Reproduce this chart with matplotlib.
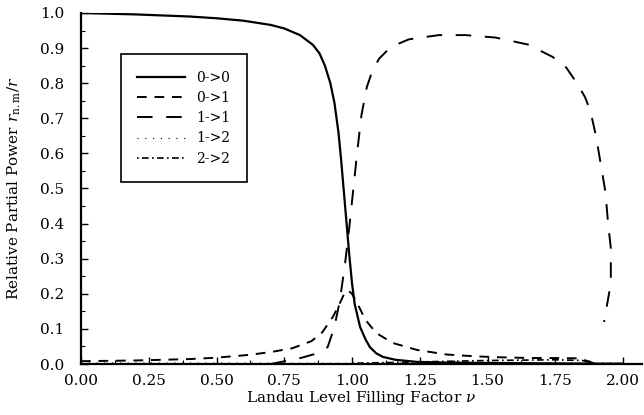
import matplotlib
matplotlib.use("Agg")
import matplotlib.pyplot as plt
from matplotlib.ticker import MultipleLocator

# ---- data ----
nu_00 = [0.0, 0.1, 0.2, 0.3, 0.4, 0.5, 0.6, 0.7, 0.75, 0.808, 0.856, 0.88,
         0.90, 0.92, 0.935, 0.95, 0.96, 0.97, 0.98, 0.99, 1.0, 1.01, 1.03,
         1.05, 1.066, 1.09, 1.115, 1.16, 1.24, 1.35, 1.5, 1.7, 1.9, 2.0]
r_00 = [1.0, 0.998, 0.996, 0.993, 0.99, 0.985, 0.978, 0.966, 0.956, 0.937,
        0.909, 0.885, 0.85, 0.80, 0.745, 0.66, 0.58, 0.49, 0.40, 0.31,
        0.23, 0.17, 0.105, 0.07, 0.048, 0.03, 0.02, 0.012, 0.006, 0.004,
        0.003, 0.002, 0.001, 0.001]

nu_01 = [0.0, 0.2, 0.4, 0.5, 0.62, 0.7, 0.78, 0.85, 0.89, 0.93, 0.95, 0.97,
         0.985, 1.0, 1.02, 1.05, 1.09, 1.15, 1.24, 1.35, 1.45, 1.55, 1.66,
         1.75, 1.84, 1.87, 1.9]
r_01 = [0.008, 0.010, 0.014, 0.018, 0.026, 0.034, 0.045, 0.065, 0.09, 0.135,
        0.165, 0.198, 0.21, 0.2, 0.172, 0.125, 0.088, 0.06, 0.04, 0.027,
        0.022, 0.019, 0.017, 0.017, 0.016, 0.008, 0.0]

nu_11 = [0.7, 0.81, 0.87, 0.91, 0.935, 0.955, 0.975, 0.99, 1.005, 1.02,
         1.035, 1.055, 1.075, 1.10, 1.13, 1.17, 1.21, 1.32, 1.42, 1.53, 1.65,
         1.74, 1.79, 1.83, 1.86, 1.88, 1.90, 1.92, 1.935, 1.945, 1.955, 1.955,
         1.93]
r_11 = [0.0, 0.017, 0.03, 0.048, 0.105, 0.18, 0.29, 0.39, 0.5, 0.61, 0.71,
        0.79, 0.835, 0.87, 0.893, 0.912, 0.925, 0.937, 0.937, 0.93, 0.91,
        0.875, 0.845, 0.80, 0.76, 0.72, 0.65, 0.56, 0.49, 0.40, 0.33, 0.23,
        0.12]

nu_12 = [0.0, 0.5, 1.0, 1.5, 2.0]
r_12 = [0.003, 0.003, 0.002, 0.003, 0.003]

nu_22 = [1.0, 1.25, 1.5, 1.75, 1.85, 1.9]
r_22 = [0.002, 0.006, 0.01, 0.012, 0.01, 0.0]

labels = ["0->0", "0->1", "1->1", "1->2", "2->2"]
xticks = [0.00, 0.25, 0.50, 0.75, 1.00, 1.25, 1.50, 1.75, 2.00]
yticks = [0.0, 0.1, 0.2, 0.3, 0.4, 0.5, 0.6, 0.7, 0.8, 0.9, 1.0]

# ---- figure ----
plt.rcParams['font.family'] = ['DejaVu Serif']
plt.rcParams['mathtext.fontset'] = 'dejavuserif'
fig = plt.figure(figsize=(6.44, 4.15), dpi=100)
ax = fig.add_axes([81/644, 1 - 364/415, 561/644, 351/415])

ax.plot(nu_00, r_00, color='black', lw=1.6, ls='-', label=labels[0])
ax.plot(nu_01, r_01, color='black', lw=1.4, ls=(0, (5, 4)), label=labels[1])
ax.plot(nu_11, r_11, color='black', lw=1.4, ls=(0, (8, 7)), label=labels[2])
ax.plot(nu_12, r_12, color='black', lw=0.8, ls=(0, (1, 6)), label=labels[3])
ax.plot(nu_22, r_22, color='black', lw=1.2, ls=(0, (1, 2, 4, 2)), label=labels[4])

ax.set_xlim(0, 2.07)
ax.set_ylim(0, 1.0)
ax.set_xticks(xticks)
ax.set_xticklabels([f"{v:.2f}" for v in xticks])
ax.set_yticks(yticks)
ax.set_yticklabels([f"{v:.1f}" for v in yticks])
ax.xaxis.set_minor_locator(MultipleLocator(0.125))
ax.yaxis.set_minor_locator(MultipleLocator(0.05))
ax.tick_params(axis='both', which='major', direction='in', length=5, width=1.0,
               labelsize=11)
ax.tick_params(axis='both', which='minor', direction='in', length=3, width=0.8)
ax.tick_params(axis='x', pad=7)
ax.tick_params(axis='y', pad=12)

for s in ['top', 'right']:
    ax.spines[s].set_visible(False)
for s in ['left', 'bottom']:
    ax.spines[s].set_linewidth(1.6)

ax.set_xlabel(r"Landau Level Filling Factor $\nu$", fontsize=11, labelpad=1)
ax.set_ylabel(r"Relative Partial Power $r_{\mathrm{n.m}}/r$", fontsize=11, labelpad=12)

leg = ax.legend(loc='upper left', bbox_to_anchor=(0.071, 0.883), borderaxespad=0,
                fontsize=10, handlelength=3.4, labelspacing=0.45,
                fancybox=False, framealpha=1, edgecolor='black',
                borderpad=1.2, handletextpad=0.8)
leg.get_frame().set_linewidth(1.2)

fig.savefig("out.png", dpi=100)
